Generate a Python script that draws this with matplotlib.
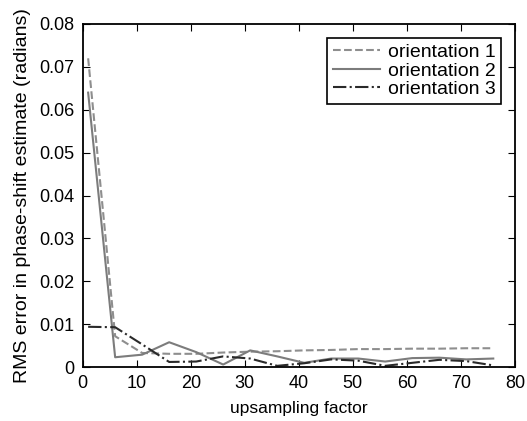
import matplotlib.pyplot as plt

plt.rcParams['font.family'] = ['Liberation Sans', 'DejaVu Sans']

fator = [1, 6, 11, 16, 21, 26, 31, 36, 41, 46, 51, 56, 61, 66, 71, 76]
orient1 = [0.072, 0.0072, 0.0033, 0.0031, 0.0031, 0.0034, 0.0036, 0.0037,
           0.0039, 0.0040, 0.0042, 0.0042, 0.0043, 0.0043, 0.0044, 0.0044]
orient2 = [0.064, 0.0023, 0.0029, 0.0058, 0.0035, 0.0006, 0.0039, 0.0025,
           0.0010, 0.0020, 0.0020, 0.0013, 0.0021, 0.0022, 0.0018, 0.0020]
orient3 = [0.0094, 0.0093, 0.0053, 0.0012, 0.0013, 0.0025, 0.0020, 0.0003,
           0.0009, 0.0018, 0.0015, 0.0003, 0.0010, 0.0017, 0.0014, 0.0004]

fig = plt.figure(figsize=(5.27, 4.21), dpi=100)
ax = fig.add_axes([0.157, 0.128, 0.82, 0.815])

ax.plot(fator, orient1, '--', color='#8e8e8e', lw=1.5, label='orientation 1')
ax.plot(fator, orient2, '-', color='#7c7c7c', lw=1.5, label='orientation 2')
ax.plot(fator, orient3, '-.', color='#2a2a2a', lw=1.5, label='orientation 3')

ax.set_xlim(0, 80)
ax.set_ylim(0, 0.08)
ax.set_xticks(range(0, 81, 10))
ax.set_yticks([0, 0.01, 0.02, 0.03, 0.04, 0.05, 0.06, 0.07, 0.08])
ax.set_yticklabels(['0', '0.01', '0.02', '0.03', '0.04', '0.05', '0.06', '0.07', '0.08'])
ax.tick_params(direction='in', top=True, right=True, labelsize=13, length=5, pad=6)
for s in ax.spines.values():
    s.set_linewidth(1.3)

ax.set_xlabel('upsampling factor', fontsize=12.5, labelpad=6)
ax.set_ylabel('RMS error in phase-shift estimate (radians)', fontsize=14, labelpad=6)

leg = ax.legend(loc='upper right', fontsize=14, fancybox=False, framealpha=1,
                edgecolor='black', handlelength=2.4, borderpad=0.3,
                labelspacing=0.05, handletextpad=0.4, borderaxespad=0.7)
leg.get_frame().set_linewidth(1.2)

plt.savefig('out.png')
